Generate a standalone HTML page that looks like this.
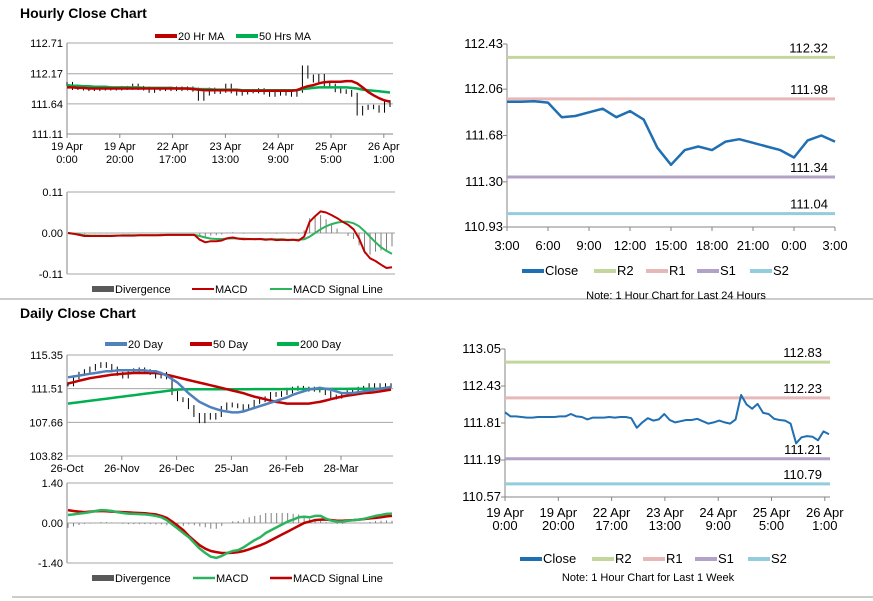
<!DOCTYPE html>
<html><head><meta charset="utf-8"><style>
body{margin:0;background:#fff}
svg{display:block;font-family:"Liberation Sans",sans-serif}
.t{font-size:11px;fill:#000}
.n{font-size:13px;fill:#000}
</style></head><body>
<svg id="s" width="873" height="601" viewBox="0 0 873 601">
<line x1="0" y1="299" x2="873" y2="299" stroke="#999"/>
<line x1="12" y1="597" x2="873" y2="597" stroke="#999"/>
<text x="20" y="18" font-size="14" font-weight="bold">Hourly Close Chart</text>
<text x="20" y="318" font-size="14" font-weight="bold">Daily Close Chart</text>
</svg>
<script>
// ---- data ----
const weekClose=[111.99,111.92,111.92,111.91,111.90,111.90,111.91,111.91,111.91,111.91,111.92,111.92,111.96,111.92,111.91,111.87,111.90,111.90,111.90,111.91,111.90,111.91,111.91,111.89,111.73,111.82,111.89,111.85,111.87,111.96,111.86,111.82,111.84,111.86,111.86,111.88,111.84,111.80,111.82,111.85,111.82,111.80,111.87,112.28,112.12,112.05,112.13,111.98,111.96,111.88,111.86,111.85,111.80,111.47,111.57,111.59,111.58,111.52,111.67,111.62];
const ma20h=[111.93,111.93,111.92,111.92,111.91,111.91,111.91,111.91,111.91,111.91,111.91,111.91,111.91,111.91,111.91,111.91,111.91,111.91,111.91,111.91,111.91,111.91,111.91,111.90,111.89,111.88,111.88,111.88,111.88,111.88,111.88,111.88,111.87,111.87,111.87,111.87,111.87,111.87,111.87,111.87,111.87,111.87,111.88,111.92,111.95,111.97,112.00,112.02,112.03,112.03,112.03,112.04,112.04,112.00,111.93,111.85,111.79,111.74,111.70,111.68];
const ma50h=[111.97,111.96,111.96,111.95,111.95,111.94,111.94,111.94,111.93,111.93,111.93,111.93,111.93,111.93,111.92,111.92,111.92,111.92,111.92,111.92,111.91,111.91,111.91,111.91,111.90,111.90,111.90,111.89,111.89,111.89,111.89,111.89,111.88,111.88,111.88,111.88,111.88,111.88,111.88,111.88,111.88,111.88,111.88,111.90,111.91,111.92,111.93,111.93,111.93,111.93,111.93,111.93,111.92,111.91,111.89,111.88,111.87,111.86,111.85,111.84];
const macdH=[0,-0.002,-0.005,-0.008,-0.008,-0.008,-0.008,-0.008,-0.008,-0.007,-0.007,-0.007,-0.007,-0.006,-0.006,-0.006,-0.006,-0.006,-0.005,-0.005,-0.005,-0.005,-0.005,-0.005,-0.018,-0.025,-0.022,-0.022,-0.020,-0.014,-0.012,-0.015,-0.017,-0.016,-0.017,-0.016,-0.018,-0.017,-0.019,-0.018,-0.019,-0.018,-0.020,-0.010,0.030,0.045,0.058,0.055,0.048,0.040,0.030,0.022,0.010,-0.015,-0.050,-0.068,-0.075,-0.085,-0.094,-0.092];
const sigH=[0,-0.002,-0.004,-0.006,-0.007,-0.007,-0.007,-0.007,-0.007,-0.007,-0.006,-0.006,-0.006,-0.006,-0.006,-0.006,-0.006,-0.005,-0.005,-0.005,-0.005,-0.005,-0.005,-0.005,-0.008,-0.012,-0.015,-0.016,-0.016,-0.015,-0.014,-0.015,-0.015,-0.016,-0.016,-0.016,-0.017,-0.017,-0.017,-0.017,-0.018,-0.018,-0.018,-0.017,-0.010,0.000,0.010,0.018,0.024,0.028,0.030,0.030,0.026,0.018,0.005,-0.010,-0.025,-0.038,-0.048,-0.056];
const dayClose=[112.0,112.8,113.2,113.5,113.8,114.1,114.3,114.1,113.8,113.2,112.9,113.5,113.6,113.7,113.5,113.3,112.9,113.2,112.8,111.0,110.3,110.2,109.4,108.5,107.8,108.5,108.2,108.5,109.3,109.7,109.6,109.5,109.2,109.5,110.0,110.2,110.4,110.9,110.8,111.0,111.2,111.5,111.6,111.5,111.4,111.5,111.3,111.0,110.5,110.6,110.9,111.1,111.3,111.5,111.6,111.9,111.8,111.9,111.9,111.8];
const ma20d=[112.8,112.9,113.0,113.1,113.2,113.3,113.4,113.5,113.5,113.6,113.6,113.6,113.6,113.6,113.6,113.5,113.5,113.3,113.0,112.6,112.2,111.6,111.0,110.5,110.0,109.7,109.4,109.2,109.0,108.9,108.8,108.8,108.9,109.1,109.3,109.5,109.7,109.9,110.1,110.3,110.5,110.8,111.0,111.2,111.4,111.5,111.6,111.5,111.4,111.2,111.0,111.0,111.0,111.1,111.2,111.3,111.4,111.5,111.6,111.7];
const ma50d=[112.1,112.25,112.4,112.55,112.7,112.8,112.9,113.0,113.1,113.15,113.2,113.25,113.3,113.3,113.3,113.3,113.3,113.2,113.1,112.95,112.8,112.65,112.5,112.35,112.2,112.05,111.9,111.75,111.6,111.45,111.3,111.15,111.0,110.8,110.6,110.45,110.3,110.15,110.0,109.9,109.8,109.8,109.8,109.8,109.8,109.9,110.0,110.15,110.3,110.45,110.6,110.7,110.8,110.9,111.0,111.05,111.1,111.2,111.3,111.4];
const ma200d=[109.8,109.88,109.96,110.04,110.12,110.2,110.28,110.36,110.44,110.52,110.6,110.68,110.76,110.84,110.92,111.0,111.08,111.16,111.24,111.32,111.4,111.42,111.43,111.44,111.45,111.45,111.45,111.45,111.45,111.45,111.45,111.45,111.45,111.45,111.46,111.46,111.46,111.46,111.46,111.46,111.47,111.47,111.47,111.47,111.47,111.47,111.48,111.48,111.48,111.48,111.48,111.48,111.49,111.49,111.49,111.49,111.5,111.5,111.5,111.5];
const macdD=[0.28,0.3,0.33,0.35,0.38,0.42,0.45,0.44,0.42,0.38,0.35,0.33,0.32,0.31,0.3,0.28,0.25,0.2,0.1,-0.05,-0.2,-0.35,-0.5,-0.7,-0.9,-1.05,-1.18,-1.22,-1.15,-1.05,-0.98,-0.95,-0.85,-0.72,-0.6,-0.5,-0.35,-0.25,-0.15,-0.05,0.05,0.12,0.2,0.22,0.2,0.25,0.25,0.15,0.08,0.05,0.05,0.08,0.1,0.12,0.15,0.2,0.25,0.28,0.32,0.33];
const sigD=[0.45,0.42,0.4,0.38,0.4,0.41,0.42,0.41,0.4,0.39,0.38,0.37,0.36,0.35,0.34,0.32,0.3,0.25,0.18,0.05,-0.1,-0.25,-0.45,-0.62,-0.78,-0.9,-0.98,-1.02,-1.05,-1.05,-1.04,-1.02,-0.98,-0.92,-0.85,-0.78,-0.7,-0.6,-0.5,-0.4,-0.3,-0.2,-0.1,0.0,0.05,0.1,0.12,0.12,0.1,0.08,0.08,0.09,0.1,0.12,0.14,0.16,0.18,0.2,0.23,0.25];
const dayClose24=[111.956,111.956,111.96,111.95,111.83,111.84,111.87,111.90,111.83,111.88,111.81,111.58,111.44,111.56,111.59,111.56,111.63,111.65,111.62,111.59,111.56,111.50,111.64,111.68,111.63];
const hourTicks=["3:00","6:00","9:00","12:00","15:00","18:00","21:00","0:00","3:00"];
const weekTicks1=["19 Apr","19 Apr","22 Apr","23 Apr","24 Apr","25 Apr","26 Apr"];
const weekTicks2=["0:00","20:00","17:00","13:00","9:00","5:00","1:00"];
const dayTicks=["26-Oct","26-Nov","26-Dec","25-Jan","26-Feb","28-Mar"];
const pivots24=[112.32,111.98,111.34,111.04];
const pivotsWeek=[112.83,112.23,111.21,110.79];
const pivotNames=["R2","R1","S1","S2"];
const pivotColors=["#c3d69b","#e6b9b8","#b3a2c7","#93cddd"];
// ---- helpers ----
const S=document.getElementById('s');const NS='http://www.w3.org/2000/svg';
function mk(tag,a){const e=document.createElementNS(NS,tag);for(const k in a)e.setAttribute(k,a[k]);S.appendChild(e);return e;}
function txt(x,y,s,cls,anchor){const e=mk('text',{x:x,y:y,class:cls,'text-anchor':anchor||'start'});e.textContent=s;return e;}
function lin(d0,d1,r0,r1){return v=>r0+(v-d0)/(d1-d0)*(r1-r0);}
function path(arr,xs,ys,col,w){let d='';arr.forEach((v,i)=>{d+=(i?'L':'M')+xs(i).toFixed(1)+','+ys(v).toFixed(1);});return mk('path',{d:d,fill:'none',stroke:col,'stroke-width':w,'stroke-linejoin':'round'});}
function legend(x,y,col,label,w,cls){const l=mk('line',{x1:x,y1:y-4,x2:x+22,y2:y-4,stroke:col,'stroke-width':w});const t=txt(x+23,y,label,cls||'t');}
function yAxis(x0,x1,vals,ys,grid,cls){const ax=mk('line',{x1:x0,y1:ys(vals[0]),x2:x0,y2:ys(vals[vals.length-1]),stroke:'#868686'});
 vals.forEach(v=>{if(grid){const g=mk('line',{x1:x0,y1:ys(v),x2:x1,y2:ys(v),stroke:'#a6a6a6'});}
 else{mk('line',{x1:x0-4,y1:ys(v),x2:x0,y2:ys(v),stroke:'#868686'});}
 const t=txt(x0-4,ys(v)+4,v.toFixed(2),cls||'t','end');});}
// ---- Hourly close (top-left) ----
{const xs=lin(0,59,67,390),ys=lin(111.11,112.71,134,43);
 yAxis(67,393,[112.71,112.17,111.64,111.11],ys,true);
 mk('line',{x1:67,y1:134,x2:393,y2:134,stroke:'#868686'});
 weekTicks1.forEach((s,i)=>{const x=67+i*52.8;mk('line',{x1:x,y1:134,x2:x,y2:138,stroke:'#868686'});const a=txt(x,150,s,'t','middle');txt(x,163,weekTicks2[i],'t','middle');});
 weekClose.forEach((v,i)=>{const p=i?weekClose[i-1]:v;const hi=Math.max(p,v),lo=Math.min(p,v);const b=mk('line',{x1:xs(i),y1:ys(hi)-2,x2:xs(i),y2:ys(lo)+2,stroke:'#000','stroke-width':1});});
 const a=path(ma50h,xs,ys,'#00b050',2.5);
 const b=path(ma20h,xs,ys,'#c00000',2.5);
 legend(155,40,'#c00000','20 Hr MA',4);legend(236,40,'#00b050','50 Hrs MA',4);}
// ---- Hourly MACD ----
{const xs=lin(0,59,68,392),ys=lin(-0.11,0.11,274,192);
 yAxis(67,395,[0.11,0.00,-0.11],ys,true);
 macdH.forEach((v,i)=>{const d=v-sigH[i];const b=mk('line',{x1:xs(i),y1:ys(0),x2:xs(i),y2:ys(d),stroke:'#7f7f7f'});});
 const a=path(sigH,xs,ys,'#2db35d',2);
 const b=path(macdH,xs,ys,'#c00000',2);
 legend(92,293,'#595959','Divergence',6);legend(192,293,'#c00000','MACD',2);legend(270,293,'#2db35d','MACD Signal Line',2);}
// ---- Daily close ----
{const xs=lin(0,59,68,391),ys=lin(103.82,115.35,456,355);
 yAxis(67,393,[115.35,111.51,107.66,103.82],ys,true);
 dayTicks.forEach((s,i)=>{const x=67+i*54.8;mk('line',{x1:x,y1:456,x2:x,y2:460,stroke:'#868686'});const t=txt(x,472,s,'t','middle');});
 dayClose.forEach((v,i)=>{const p=i?dayClose[i-1]:v;const hi=Math.max(p,v),lo=Math.min(p,v);const b=mk('line',{x1:xs(i),y1:ys(hi)-2,x2:xs(i),y2:ys(lo)+2,stroke:'#000','stroke-width':1});});
 const a=path(ma200d,xs,ys,'#00b050',2.5);
 const b=path(ma50d,xs,ys,'#c00000',2.5);
 const c=path(ma20d,xs,ys,'#4f81bd',2.5);
 legend(105,348,'#4f81bd','20 Day',4);legend(190,348,'#c00000','50 Day',4);legend(277,348,'#00b050','200 Day',4);}
// ---- Daily MACD ----
{const xs=lin(0,59,68,392),ys=lin(-1.4,1.4,563,483);
 yAxis(67,393,[1.40,0.00,-1.40],ys,true);
 macdD.forEach((v,i)=>{const d=v-sigD[i];const b=mk('line',{x1:xs(i),y1:ys(0),x2:xs(i),y2:ys(d),stroke:'#7f7f7f'});});
 const a=path(sigD,xs,ys,'#c00000',2.5);
 const b=path(macdD,xs,ys,'#2db35d',2.5);
 legend(92,582,'#595959','Divergence',6);legend(193,582,'#2db35d','MACD',2.5);legend(270,582,'#c00000','MACD Signal Line',2.5);}
// ---- 24h pivot (top-right) ----
{const xs=lin(0,24,507,835),ys=lin(110.93,112.43,227,44);
 yAxis(507,835,[112.43,112.06,111.68,111.30,110.93],ys,false,'n');
 mk('line',{x1:507,y1:227,x2:835,y2:227,stroke:'#868686'});
 hourTicks.forEach((s,i)=>{const x=xs(i*3);mk('line',{x1:x,y1:227,x2:x,y2:231,stroke:'#868686'});const t=txt(x,250,s,'n','middle');});
 pivots24.forEach((v,i)=>{const l=mk('line',{x1:507,y1:ys(v),x2:835,y2:ys(v),stroke:pivotColors[i],'stroke-width':3});const t=txt(828,ys(v)-5,v.toFixed(2),'n','end');});
 const p=path(dayClose24,xs,ys,'#1f6fb2',2.5);
 legend(522,275,'#1f6fb2','Close',4,'n');legend(594,275,pivotColors[0],'R2',4,'n');legend(646,275,pivotColors[1],'R1',4,'n');legend(697,275,pivotColors[2],'S1',4,'n');legend(750,275,pivotColors[3],'S2',4,'n');
 const n=txt(676,299,'Note: 1 Hour Chart for Last 24 Hours','t','middle');n.setAttribute('font-size','9');}
// ---- week pivot (bottom-right) ----
{const xs=lin(0,59,505,829),ys=lin(110.57,113.05,497,349);
 yAxis(505,830,[113.05,112.43,111.81,111.19,110.57],ys,false,'n');
 mk('line',{x1:505,y1:497,x2:830,y2:497,stroke:'#868686'});
 weekTicks1.forEach((s,i)=>{const x=505+i*53.3;mk('line',{x1:x,y1:497,x2:x,y2:501,stroke:'#868686'});const t=txt(x,517,s,'n','middle');txt(x,530,weekTicks2[i],'n','middle');});
 pivotsWeek.forEach((v,i)=>{const l=mk('line',{x1:505,y1:ys(v),x2:830,y2:ys(v),stroke:pivotColors[i],'stroke-width':3});const t=txt(822,ys(v)-5,v.toFixed(2),'n','end');});
 const p=path(weekClose,xs,ys,'#1f6fb2',2);
 legend(520,563,'#1f6fb2','Close',4,'n');legend(592,563,pivotColors[0],'R2',4,'n');legend(643,563,pivotColors[1],'R1',4,'n');legend(695,563,pivotColors[2],'S1',4,'n');legend(748,563,pivotColors[3],'S2',4,'n');
 const n=txt(648,581,'Note: 1 Hour Chart for Last 1 Week','t','middle');n.setAttribute('font-size','9');}
</script>
</body></html>
